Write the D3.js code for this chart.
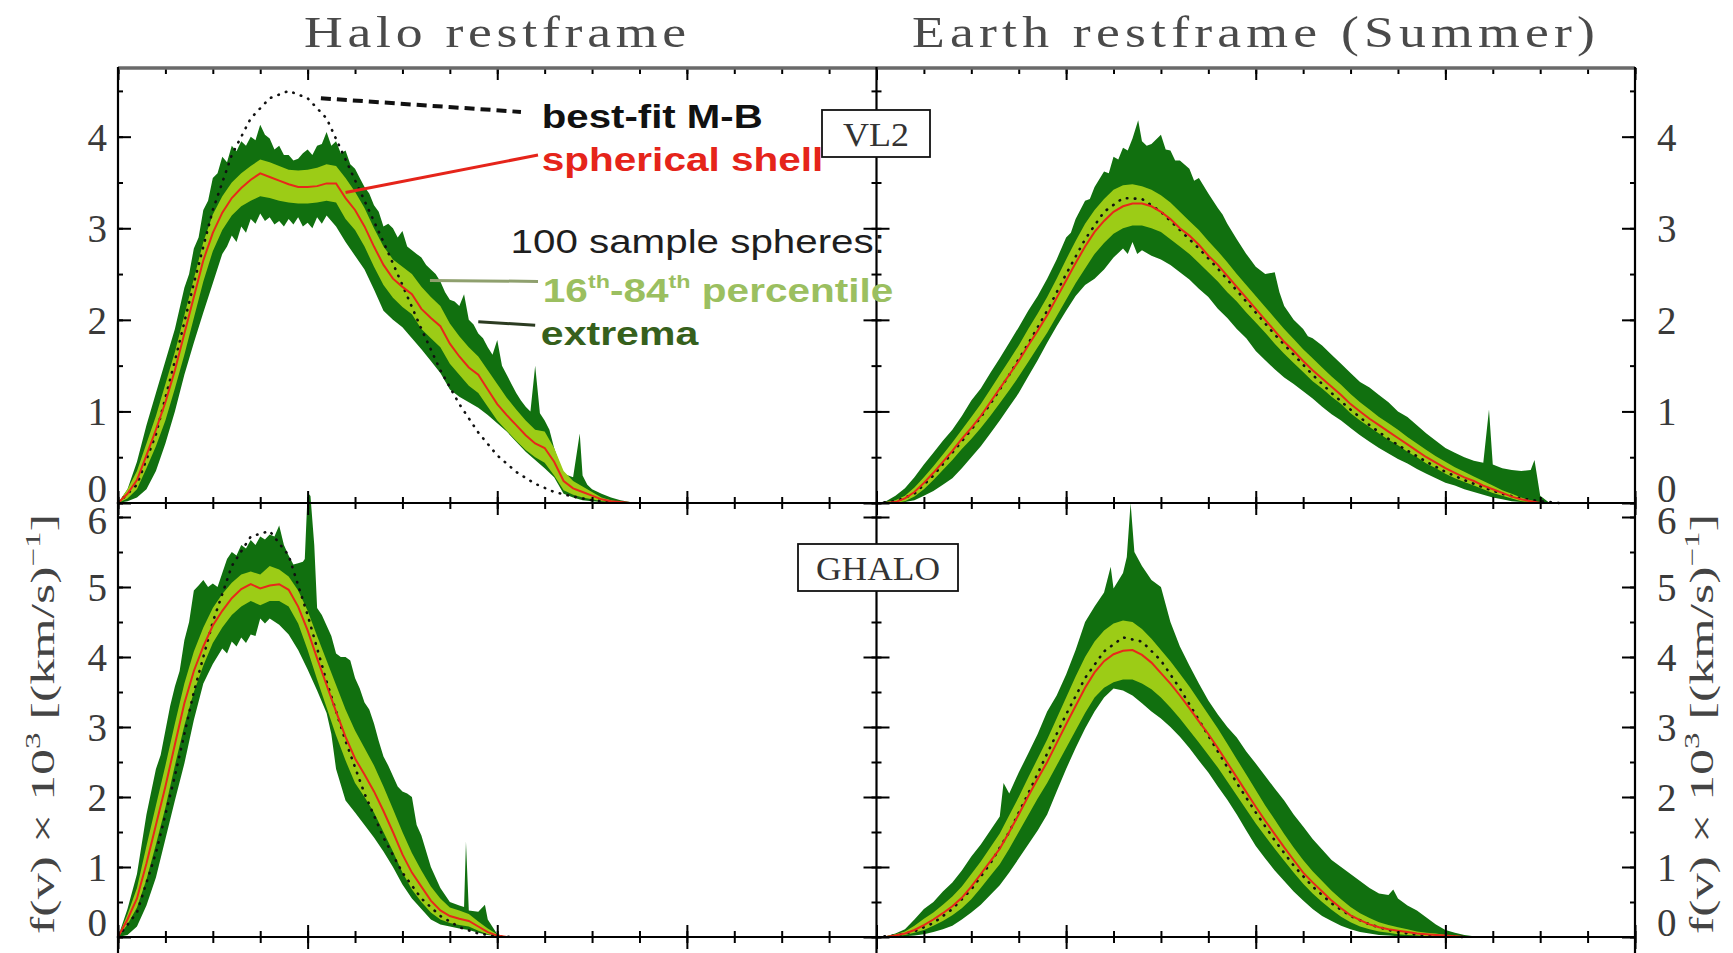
<!DOCTYPE html>
<html>
<head>
<meta charset="utf-8">
<script src="https://cdn.jsdelivr.net/npm/d3@7"></script>
<style>
  body { margin: 0; background: #fff; }
  svg { display: block; }
</style>
</head>
<body>
<svg id="chart" width="1733" height="953"></svg>
<script>
// f(v) x 10^3, pairs of [v (km/s), f]

// ---- VL2, halo restframe ----
var vl2HaloMax = [[0,0],[10,0.15],[20,0.45],[30,0.85],[40,1.2],[50,1.55],[60,1.9],[70,2.35],[75,2.5],[80,2.78],[85,2.9],[90,3.2],[95,3.3],[100,3.55],[105,3.6],[110,3.78],[115,3.72],[120,3.9],[125,3.84],[130,3.95],[135,3.9],[140,4.0],[145,3.96],[150,4.13],[155,4.02],[160,3.98],[165,3.86],[170,3.9],[175,3.8],[180,3.8],[185,3.74],[190,3.76],[195,3.82],[200,3.86],[205,3.8],[210,3.9],[215,3.92],[220,4.05],[225,3.9],[230,3.95],[235,3.82],[240,3.85],[245,3.7],[250,3.65],[255,3.55],[260,3.45],[265,3.38],[270,3.25],[275,3.18],[280,3.02],[285,3.05],[290,3.0],[295,2.9],[300,2.97],[305,2.8],[310,2.76],[315,2.72],[320,2.68],[325,2.6],[330,2.55],[335,2.5],[340,2.42],[345,2.3],[350,2.22],[355,2.2],[360,2.15],[365,2.28],[370,2.0],[375,1.95],[380,1.85],[385,1.8],[390,1.7],[395,1.62],[400,1.78],[405,1.5],[410,1.4],[415,1.3],[420,1.2],[425,1.12],[430,1.05],[435,1.0],[440,1.5],[445,0.98],[450,0.9],[455,0.8],[460,0.6],[465,0.45],[470,0.32],[475,0.3],[480,0.28],[487,0.76],[490,0.3],[495,0.2],[500,0.15],[510,0.1],[520,0.06],[530,0.03],[540,0.01],[550,0]];
var vl2HaloMin = [[0,0],[10,0.02],[20,0.06],[30,0.15],[40,0.35],[50,0.65],[60,1.0],[70,1.4],[80,1.75],[90,2.08],[100,2.4],[110,2.72],[115,2.8],[120,2.92],[125,2.85],[130,3.02],[135,2.95],[140,3.1],[145,3.05],[150,3.16],[155,3.08],[160,3.12],[165,3.04],[170,3.08],[175,3.02],[180,3.1],[185,3.04],[190,3.12],[195,3.02],[200,3.06],[205,3.0],[210,3.12],[215,3.05],[220,3.14],[225,3.08],[230,3.02],[240,2.85],[250,2.7],[260,2.55],[270,2.33],[280,2.1],[290,2.0],[300,1.92],[310,1.8],[320,1.68],[330,1.55],[340,1.42],[350,1.24],[360,1.16],[370,1.1],[380,1.04],[390,0.96],[400,0.87],[410,0.78],[420,0.67],[430,0.56],[440,0.47],[450,0.38],[460,0.28],[470,0.1],[480,0.06],[490,0.03],[500,0.02],[510,0.01],[520,0]];
var vl2HaloP84 = [[0,0],[10,0.15],[20,0.35],[30,0.65],[40,0.95],[50,1.3],[60,1.65],[70,2.05],[80,2.45],[90,2.85],[100,3.15],[110,3.35],[120,3.5],[130,3.6],[140,3.68],[150,3.75],[160,3.72],[170,3.68],[180,3.64],[190,3.63],[200,3.64],[210,3.66],[220,3.7],[230,3.68],[240,3.55],[250,3.4],[260,3.22],[270,3.0],[280,2.8],[290,2.66],[300,2.58],[310,2.5],[320,2.36],[330,2.25],[340,2.15],[350,1.96],[360,1.82],[370,1.7],[380,1.6],[390,1.45],[400,1.3],[410,1.15],[420,1.02],[430,0.9],[440,0.8],[450,0.78],[460,0.6],[470,0.35],[480,0.24],[490,0.18],[500,0.12],[510,0.06],[520,0.03],[530,0.01],[540,0]];
var vl2HaloP16 = [[0,0],[10,0.05],[20,0.15],[30,0.38],[40,0.62],[50,0.9],[60,1.25],[70,1.62],[80,2.02],[90,2.42],[100,2.75],[110,2.98],[120,3.14],[130,3.24],[140,3.3],[150,3.35],[160,3.33],[170,3.3],[180,3.28],[190,3.27],[200,3.27],[210,3.28],[220,3.3],[230,3.28],[240,3.1],[250,2.98],[260,2.8],[270,2.58],[280,2.38],[290,2.24],[300,2.14],[310,2.06],[320,1.9],[330,1.8],[340,1.7],[350,1.52],[360,1.4],[370,1.28],[380,1.2],[390,1.05],[400,0.9],[410,0.79],[420,0.68],[430,0.58],[440,0.5],[450,0.44],[460,0.3],[470,0.14],[480,0.09],[490,0.06],[500,0.04],[510,0.02],[520,0.01],[530,0]];
var vl2HaloMed = [[0,0],[10,0.1],[20,0.25],[30,0.52],[40,0.8],[50,1.1],[60,1.45],[70,1.85],[80,2.25],[90,2.65],[100,2.95],[110,3.17],[120,3.33],[130,3.44],[140,3.53],[150,3.6],[160,3.56],[170,3.52],[180,3.48],[190,3.45],[200,3.45],[210,3.46],[220,3.49],[230,3.49],[240,3.33],[250,3.2],[260,3.02],[270,2.8],[280,2.6],[290,2.45],[300,2.36],[310,2.28],[320,2.12],[330,2.02],[340,1.93],[350,1.74],[360,1.6],[370,1.48],[380,1.4],[390,1.24],[400,1.08],[410,0.96],[420,0.85],[430,0.74],[440,0.65],[450,0.6],[460,0.45],[470,0.24],[480,0.16],[490,0.12],[500,0.08],[510,0.04],[520,0.02],[530,0.01],[540,0]];
var vl2HaloMB = [[0,0],[20,0.2],[40,0.75],[60,1.55],[80,2.4],[100,3.2],[120,3.8],[140,4.2],[160,4.42],[180,4.5],[200,4.42],[220,4.2],[240,3.75],[260,3.3],[280,2.85],[300,2.38],[320,1.9],[340,1.45],[360,1.08],[380,0.77],[400,0.52],[420,0.34],[440,0.21],[460,0.12],[480,0.07],[500,0.03],[520,0.01],[540,0]];

// ---- VL2, Earth restframe (summer) ----
var vl2EarthMax = [[0,0],[10,0.02],[20,0.08],[30,0.16],[40,0.28],[50,0.42],[60,0.55],[70,0.68],[80,0.8],[90,0.95],[100,1.12],[110,1.25],[120,1.42],[130,1.58],[140,1.75],[150,1.92],[160,2.1],[170,2.26],[180,2.45],[190,2.66],[200,2.9],[205,2.95],[210,3.1],[220,3.3],[225,3.32],[230,3.45],[240,3.62],[245,3.6],[250,3.78],[255,3.75],[260,3.88],[265,3.85],[270,3.98],[276,4.18],[280,3.95],[285,3.9],[290,3.92],[300,4.02],[305,3.86],[310,3.85],[315,3.74],[320,3.74],[330,3.65],[335,3.52],[340,3.55],[350,3.38],[360,3.22],[365,3.15],[370,3.05],[380,2.88],[390,2.72],[400,2.58],[410,2.5],[420,2.52],[425,2.3],[430,2.15],[440,2.0],[450,1.9],[455,1.82],[460,1.8],[470,1.72],[480,1.62],[490,1.52],[500,1.42],[510,1.32],[520,1.26],[530,1.18],[540,1.1],[550,1.0],[560,0.94],[570,0.85],[580,0.76],[590,0.68],[600,0.6],[610,0.55],[620,0.5],[630,0.46],[640,0.44],[646,1.02],[650,0.42],[660,0.38],[670,0.36],[680,0.35],[690,0.36],[694,0.47],[700,0.08],[710,0]];
var vl2EarthMin = [[0,0],[20,0],[30,0.01],[40,0.03],[50,0.08],[60,0.13],[70,0.2],[80,0.27],[90,0.38],[100,0.5],[110,0.62],[120,0.76],[130,0.9],[140,1.05],[150,1.2],[160,1.38],[170,1.56],[180,1.75],[190,1.93],[200,2.1],[210,2.26],[220,2.38],[230,2.45],[240,2.55],[250,2.68],[260,2.78],[265,2.72],[270,2.85],[275,2.72],[280,2.76],[290,2.7],[300,2.66],[310,2.6],[320,2.52],[330,2.44],[340,2.34],[350,2.25],[360,2.12],[370,2.02],[380,1.9],[390,1.8],[400,1.66],[410,1.56],[420,1.46],[430,1.37],[440,1.3],[450,1.22],[460,1.14],[470,1.05],[480,0.97],[490,0.9],[500,0.82],[510,0.74],[520,0.67],[530,0.6],[540,0.54],[550,0.48],[560,0.43],[570,0.37],[580,0.32],[590,0.27],[600,0.22],[610,0.19],[620,0.15],[630,0.12],[640,0.09],[650,0.06],[660,0.04],[670,0.02],[680,0.01],[690,0],[700,0]];
var vl2EarthP84 = [[0,0],[10,0.01],[20,0.03],[30,0.08],[40,0.17],[50,0.28],[60,0.4],[70,0.53],[80,0.66],[90,0.8],[100,0.94],[110,1.08],[120,1.24],[130,1.4],[140,1.56],[150,1.72],[160,1.9],[170,2.07],[180,2.25],[190,2.45],[200,2.66],[210,2.86],[220,3.05],[230,3.2],[240,3.32],[250,3.42],[260,3.47],[270,3.48],[280,3.46],[290,3.42],[300,3.36],[310,3.28],[320,3.18],[330,3.08],[340,2.98],[350,2.86],[360,2.75],[370,2.63],[380,2.5],[390,2.38],[400,2.26],[410,2.14],[420,2.02],[430,1.9],[440,1.79],[450,1.68],[460,1.58],[470,1.48],[480,1.38],[490,1.29],[500,1.19],[510,1.1],[520,1.02],[530,0.94],[540,0.87],[550,0.8],[560,0.72],[570,0.65],[580,0.58],[590,0.51],[600,0.45],[610,0.39],[620,0.34],[630,0.29],[640,0.24],[650,0.19],[660,0.14],[670,0.1],[680,0.06],[690,0.03],[700,0]];
var vl2EarthP16 = [[0,0],[20,0],[30,0.02],[40,0.07],[50,0.15],[60,0.25],[70,0.36],[80,0.47],[90,0.59],[100,0.7],[110,0.82],[120,0.95],[130,1.09],[140,1.23],[150,1.38],[160,1.54],[170,1.7],[180,1.86],[190,2.04],[200,2.22],[210,2.4],[220,2.56],[230,2.72],[240,2.84],[250,2.94],[260,3.0],[270,3.03],[280,3.03],[290,3.0],[300,2.96],[310,2.88],[320,2.8],[330,2.72],[340,2.62],[350,2.52],[360,2.42],[370,2.3],[380,2.2],[390,2.08],[400,1.97],[410,1.86],[420,1.74],[430,1.63],[440,1.53],[450,1.43],[460,1.33],[470,1.25],[480,1.16],[490,1.08],[500,0.98],[510,0.9],[520,0.83],[530,0.76],[540,0.69],[550,0.63],[560,0.56],[570,0.5],[580,0.43],[590,0.38],[600,0.32],[610,0.27],[620,0.23],[630,0.19],[640,0.15],[650,0.11],[660,0.08],[670,0.05],[680,0.02],[690,0.01],[700,0]];
var vl2EarthMed = [[0,0],[10,0],[20,0.01],[30,0.05],[40,0.12],[50,0.22],[60,0.33],[70,0.45],[80,0.57],[90,0.7],[100,0.82],[110,0.95],[120,1.1],[130,1.25],[140,1.4],[150,1.55],[160,1.72],[170,1.88],[180,2.05],[190,2.24],[200,2.43],[210,2.62],[220,2.8],[230,2.96],[240,3.08],[250,3.18],[260,3.24],[270,3.27],[280,3.27],[290,3.24],[300,3.18],[310,3.1],[320,3.0],[330,2.92],[340,2.82],[350,2.7],[360,2.6],[370,2.48],[380,2.36],[390,2.24],[400,2.12],[410,2.0],[420,1.88],[430,1.76],[440,1.66],[450,1.55],[460,1.45],[470,1.36],[480,1.27],[490,1.18],[500,1.08],[510,1.0],[520,0.92],[530,0.85],[540,0.78],[550,0.71],[560,0.64],[570,0.57],[580,0.5],[590,0.44],[600,0.38],[610,0.33],[620,0.28],[630,0.24],[640,0.19],[650,0.15],[660,0.11],[670,0.07],[680,0.04],[690,0.02],[700,0]];
var vl2EarthMB = [[0,0],[20,0.02],[40,0.1],[60,0.3],[80,0.55],[100,0.8],[120,1.08],[140,1.4],[160,1.74],[180,2.1],[200,2.5],[220,2.88],[240,3.18],[260,3.33],[280,3.32],[300,3.18],[320,2.98],[340,2.78],[360,2.56],[380,2.32],[400,2.08],[420,1.84],[440,1.62],[460,1.4],[480,1.2],[500,1.02],[520,0.85],[540,0.7],[560,0.57],[580,0.45],[600,0.34],[620,0.25],[640,0.17],[660,0.1],[680,0.05],[700,0.02],[720,0]];

// ---- GHALO, halo restframe ----
var ghaloHaloMax = [[0,0],[10,0.4],[20,0.9],[30,1.75],[40,2.4],[45,2.6],[50,2.95],[55,3.3],[60,3.58],[65,3.8],[70,4.24],[75,4.5],[80,4.95],[85,5.02],[90,5.1],[95,5.0],[100,5.05],[105,5.0],[110,5.2],[115,5.4],[120,5.5],[125,5.45],[130,5.6],[135,5.55],[140,5.67],[145,5.6],[150,5.72],[155,5.68],[160,5.75],[165,5.72],[170,5.88],[175,5.6],[180,5.45],[185,5.32],[190,5.34],[195,5.36],[197,5.4],[200,6.35],[203,6.3],[207,5.6],[210,4.7],[215,4.6],[220,4.45],[225,4.3],[230,4.05],[235,4.0],[240,4.0],[245,3.95],[250,3.7],[255,3.55],[260,3.35],[265,3.25],[270,3.05],[275,2.8],[280,2.58],[285,2.45],[290,2.3],[295,2.15],[300,2.08],[305,2.05],[310,2.0],[315,1.6],[320,1.45],[330,1.0],[340,0.7],[350,0.5],[360,0.45],[365,0.43],[367,1.36],[370,0.38],[380,0.36],[387,0.46],[390,0.25],[400,0.04],[410,0]];
var ghaloHaloMin = [[0,0],[10,0.03],[20,0.15],[30,0.45],[40,0.85],[50,1.4],[60,1.95],[70,2.48],[80,3.1],[90,3.62],[100,3.9],[110,4.12],[115,4.05],[120,4.22],[125,4.15],[130,4.28],[135,4.2],[140,4.32],[145,4.3],[150,4.55],[155,4.48],[160,4.55],[170,4.46],[180,4.32],[190,4.1],[200,3.82],[210,3.52],[220,3.2],[225,2.9],[230,2.4],[240,1.95],[250,1.78],[260,1.6],[270,1.42],[280,1.22],[290,1.0],[300,0.75],[310,0.55],[320,0.4],[330,0.25],[340,0.18],[350,0.15],[360,0.12],[370,0.1],[380,0.06],[390,0.03],[400,0.01],[410,0]];
var ghaloHaloP84 = [[0,0],[10,0.32],[20,0.7],[30,1.3],[40,1.88],[50,2.45],[60,3.05],[70,3.62],[80,4.08],[90,4.42],[100,4.7],[110,4.9],[120,5.06],[130,5.18],[140,5.22],[150,5.18],[160,5.3],[170,5.25],[180,5.15],[190,4.95],[200,4.66],[210,4.3],[220,3.95],[230,3.6],[240,3.25],[250,2.95],[260,2.7],[270,2.45],[280,2.15],[290,1.83],[300,1.5],[310,1.2],[320,0.95],[330,0.72],[340,0.55],[350,0.42],[360,0.38],[370,0.33],[380,0.22],[390,0.12],[400,0.04],[410,0]];
var ghaloHaloP16 = [[0,0],[10,0.18],[20,0.42],[30,0.82],[40,1.32],[50,1.85],[60,2.45],[70,3.02],[80,3.5],[90,3.88],[100,4.2],[110,4.42],[120,4.6],[130,4.72],[140,4.8],[150,4.74],[160,4.8],[170,4.8],[180,4.72],[190,4.48],[200,4.1],[210,3.68],[220,3.28],[230,2.88],[240,2.52],[250,2.2],[260,2.0],[270,1.78],[280,1.5],[290,1.22],[300,0.92],[310,0.68],[320,0.5],[330,0.35],[340,0.25],[350,0.2],[360,0.17],[370,0.15],[380,0.09],[390,0.04],[400,0.01],[410,0]];
var ghaloHaloMed = [[0,0],[10,0.25],[20,0.55],[30,1.05],[40,1.6],[50,2.15],[60,2.75],[70,3.34],[80,3.8],[90,4.15],[100,4.45],[110,4.66],[120,4.84],[130,4.97],[140,5.04],[150,4.98],[160,5.02],[170,5.04],[180,4.96],[190,4.72],[200,4.38],[210,3.98],[220,3.6],[230,3.22],[240,2.86],[250,2.55],[260,2.32],[270,2.08],[280,1.8],[290,1.5],[300,1.18],[310,0.92],[320,0.72],[330,0.52],[340,0.38],[350,0.3],[360,0.26],[370,0.23],[380,0.15],[390,0.07],[400,0.02],[410,0]];
var ghaloHaloMB = [[0,0],[20,0.35],[40,1.2],[60,2.3],[80,3.5],[100,4.5],[120,5.3],[140,5.72],[160,5.8],[180,5.45],[200,4.6],[220,3.65],[240,2.8],[260,2.05],[280,1.42],[300,0.92],[320,0.55],[340,0.3],[360,0.14],[380,0.05],[400,0.01],[420,0]];

// ---- GHALO, Earth restframe (summer) ----
var ghaloEarthMax = [[0,0],[10,0.01],[20,0.05],[30,0.11],[40,0.25],[50,0.4],[60,0.5],[70,0.65],[80,0.78],[90,0.95],[100,1.15],[110,1.32],[120,1.52],[130,1.72],[134,2.2],[140,2.05],[150,2.35],[160,2.62],[170,2.9],[180,3.22],[190,3.45],[200,3.75],[210,4.1],[220,4.5],[230,4.72],[240,4.92],[247,5.29],[250,4.98],[260,5.2],[264,5.43],[268,6.2],[272,5.5],[280,5.3],[290,5.1],[300,5.0],[305,4.75],[310,4.5],[320,4.15],[330,3.88],[340,3.62],[350,3.38],[360,3.18],[370,3.0],[380,2.85],[390,2.65],[400,2.48],[410,2.3],[420,2.12],[430,1.95],[440,1.75],[450,1.58],[460,1.4],[470,1.25],[480,1.1],[490,1.0],[500,0.9],[510,0.8],[520,0.7],[530,0.62],[540,0.6],[545,0.68],[550,0.55],[560,0.45],[570,0.38],[580,0.28],[590,0.18],[600,0.1],[610,0.06],[620,0.03],[630,0.01],[640,0]];
var ghaloEarthMin = [[0,0],[20,0],[30,0.01],[40,0.02],[50,0.04],[60,0.07],[70,0.11],[80,0.16],[90,0.25],[100,0.35],[110,0.46],[120,0.6],[130,0.74],[140,0.92],[150,1.12],[160,1.32],[170,1.52],[180,1.75],[190,2.08],[200,2.4],[210,2.7],[220,2.98],[230,3.22],[240,3.42],[250,3.55],[260,3.52],[270,3.45],[280,3.34],[290,3.22],[300,3.12],[310,3.0],[320,2.86],[330,2.7],[340,2.52],[350,2.35],[360,2.15],[370,1.96],[380,1.75],[390,1.52],[400,1.3],[410,1.12],[420,0.95],[430,0.8],[440,0.65],[450,0.52],[460,0.4],[470,0.3],[480,0.23],[490,0.16],[500,0.11],[510,0.07],[520,0.05],[530,0.03],[540,0.02],[550,0.01],[560,0]];
var ghaloEarthP84 = [[0,0],[10,0.01],[20,0.04],[30,0.08],[40,0.16],[50,0.26],[60,0.35],[70,0.46],[80,0.58],[90,0.72],[100,0.9],[110,1.08],[120,1.28],[130,1.48],[140,1.74],[150,2.0],[160,2.28],[170,2.55],[180,2.82],[190,3.12],[200,3.42],[210,3.72],[220,4.0],[230,4.22],[240,4.38],[250,4.48],[260,4.52],[270,4.5],[280,4.4],[290,4.26],[300,4.1],[310,3.94],[320,3.76],[330,3.58],[340,3.38],[350,3.18],[360,2.98],[370,2.76],[380,2.54],[390,2.32],[400,2.1],[410,1.88],[420,1.68],[430,1.47],[440,1.28],[450,1.1],[460,0.94],[470,0.8],[480,0.66],[490,0.54],[500,0.43],[510,0.34],[520,0.27],[530,0.21],[540,0.17],[550,0.14],[560,0.11],[570,0.08],[580,0.06],[590,0.05],[600,0.03],[610,0.02],[620,0.01],[630,0]];
var ghaloEarthP16 = [[0,0],[10,0],[20,0.01],[30,0.03],[40,0.06],[50,0.1],[60,0.16],[70,0.23],[80,0.31],[90,0.41],[100,0.54],[110,0.7],[120,0.87],[130,1.04],[140,1.26],[150,1.5],[160,1.74],[170,1.98],[180,2.2],[190,2.45],[200,2.7],[210,2.95],[220,3.2],[230,3.42],[240,3.56],[250,3.64],[260,3.68],[270,3.68],[280,3.62],[290,3.54],[300,3.42],[310,3.28],[320,3.12],[330,2.95],[340,2.78],[350,2.6],[360,2.42],[370,2.22],[380,2.02],[390,1.82],[400,1.62],[410,1.44],[420,1.26],[430,1.09],[440,0.92],[450,0.76],[460,0.62],[470,0.5],[480,0.39],[490,0.29],[500,0.21],[510,0.15],[520,0.11],[530,0.08],[540,0.06],[550,0.04],[560,0.03],[570,0.02],[580,0.01],[590,0]];
var ghaloEarthMed = [[0,0],[10,0],[20,0.02],[30,0.05],[40,0.1],[50,0.17],[60,0.25],[70,0.34],[80,0.44],[90,0.56],[100,0.72],[110,0.9],[120,1.08],[130,1.26],[140,1.5],[150,1.75],[160,2.01],[170,2.26],[180,2.5],[190,2.77],[200,3.04],[210,3.3],[220,3.56],[230,3.78],[240,3.94],[250,4.04],[260,4.09],[270,4.1],[280,4.03],[290,3.92],[300,3.77],[310,3.62],[320,3.45],[330,3.27],[340,3.08],[350,2.9],[360,2.7],[370,2.49],[380,2.28],[390,2.07],[400,1.86],[410,1.66],[420,1.47],[430,1.28],[440,1.1],[450,0.92],[460,0.78],[470,0.65],[480,0.52],[490,0.41],[500,0.31],[510,0.24],[520,0.18],[530,0.14],[540,0.11],[550,0.09],[560,0.07],[570,0.05],[580,0.04],[590,0.03],[600,0.02],[610,0.01],[620,0]];
var ghaloEarthMB = [[0,0],[20,0.02],[40,0.08],[60,0.2],[80,0.4],[100,0.68],[120,1.05],[140,1.5],[160,2.05],[180,2.62],[200,3.18],[220,3.7],[240,4.08],[260,4.28],[280,4.22],[300,3.95],[320,3.55],[340,3.1],[360,2.65],[380,2.2],[400,1.78],[420,1.38],[440,1.02],[460,0.72],[480,0.48],[500,0.3],[520,0.18],[540,0.1],[560,0.05],[580,0.02],[600,0.01],[620,0]];

var titles = ["Halo restframe", "Earth restframe (Summer)"];
var boxLabels = ["VL2", "GHALO"];
var xMajor = [0, 200, 400, 600, 800];
var xMinor = d3.range(0, 801, 50);
var yMaxTop = 4.75, yMaxBottom = 6.2;

// legend (in units of the upper left panel)
var legendItems = [
  { text: "best-fit M-B", v0: 447, v1: 680, f: 4.09, color: "#111", weight: "bold" },
  { text: "spherical shell", v0: 447, v1: 744, f: 3.63, color: "#e5241a", weight: "bold" },
  { text: "100 sample spheres:", v0: 414, v1: 809, f: 2.73, color: "#1e1e1e", weight: "normal" },
  { text: "16|th|-84|th| percentile", v0: 448, v1: 818, f: 2.2, color: "#9bbf60", weight: "bold" },
  { text: "extrema", v0: 446, v1: 612, f: 1.72, color: "#36601c", weight: "bold" }
];
var leaders = [
  { from: [214, 4.42], to: [425, 4.27], color: "#111", dash: "10,6", width: 4 },
  { from: [240, 3.39], to: [443, 3.8], color: "#e5241a", dash: null, width: 3 },
  { from: [329, 2.43], to: [443, 2.42], color: "#8fa06e", dash: null, width: 3 },
  { from: [380, 1.98], to: [440, 1.94], color: "#2c3c22", dash: null, width: 3 }
];

var darkGreen = "#11700f";
var lightGreen = "#9ccc16";
var redLine = "#e8281a";
var serif = "'Liberation Serif', 'DejaVu Serif', serif";
var sans = "'Liberation Sans', Arial, sans-serif";

var colX = [[118, 876.5], [876.5, 1635]];
var rowY = [[503, 68], [937, 503]];

var panels = [
  { col: 0, row: 0, max: vl2HaloMax, min: vl2HaloMin, p84: vl2HaloP84, p16: vl2HaloP16, med: vl2HaloMed, mb: vl2HaloMB },
  { col: 1, row: 0, max: vl2EarthMax, min: vl2EarthMin, p84: vl2EarthP84, p16: vl2EarthP16, med: vl2EarthMed, mb: vl2EarthMB },
  { col: 0, row: 1, max: ghaloHaloMax, min: ghaloHaloMin, p84: ghaloHaloP84, p16: ghaloHaloP16, med: ghaloHaloMed, mb: ghaloHaloMB },
  { col: 1, row: 1, max: ghaloEarthMax, min: ghaloEarthMin, p84: ghaloEarthP84, p16: ghaloEarthP16, med: ghaloEarthMed, mb: ghaloEarthMB }
];

var svg = d3.select("#chart");

function xScale(col) {
  return d3.scaleLinear().domain([0, 800]).range(colX[col]);
}
function yScale(row) {
  return d3.scaleLinear().domain([0, row == 0 ? yMaxTop : yMaxBottom]).range(rowY[row]);
}

// curves
panels.forEach(function (p) {
  var x = xScale(p.col);
  var y = yScale(p.row);
  var line = d3.line().x((d) => x(d[0])).y((d) => y(d[1]));
  var g = svg.append("g");

  g.append("path")
    .attr("d", line(p.max.concat(p.min.slice().reverse())) + "Z")
    .attr("fill", darkGreen);
  g.append("path")
    .attr("d", line(p.p84.concat(p.p16.slice().reverse())) + "Z")
    .attr("fill", lightGreen);
  g.append("path")
    .attr("d", line(p.mb))
    .attr("fill", "none")
    .attr("stroke", "#111")
    .attr("stroke-width", 2.6)
    .attr("stroke-linecap", "round")
    .attr("stroke-dasharray", "0.5,7.5");
  g.append("path")
    .attr("d", line(p.med))
    .attr("fill", "none")
    .attr("stroke", redLine)
    .attr("stroke-width", 2);
});

// ticks, all pointing into the panels
function tickGroup(axis, tx, ty) {
  svg.append("g")
    .attr("transform", "translate(" + tx + "," + ty + ")")
    .call(axis)
    .call((g) => g.select(".domain").remove())
    .call((g) => g.selectAll(".tick line").attr("stroke", "#000").attr("stroke-width", 2));
}

panels.forEach(function (p) {
  var x = xScale(p.col);
  var y = yScale(p.row);
  var yTop = y.domain()[1];
  var yMajor = d3.range(0, Math.floor(yTop) + 1, 1);
  var yMinor = d3.range(0, yTop, 0.5);

  [[xMinor, 6], [xMajor, 12]].forEach(function (t) {
    tickGroup(d3.axisBottom(x).tickValues(t[0]).tickSize(t[1]).tickFormat(""), 0, y.range()[1]);
    tickGroup(d3.axisTop(x).tickValues(t[0]).tickSize(t[1]).tickFormat(""), 0, y.range()[0]);
    if (p.row == 1) {
      // top ticks of the (cropped) panel underneath
      tickGroup(d3.axisBottom(x).tickValues(t[0]).tickSize(t[1]).tickFormat(""), 0, y.range()[0]);
    }
  });
  [[yMinor, 5], [yMajor, 13]].forEach(function (t) {
    tickGroup(d3.axisRight(y).tickValues(t[0]).tickSize(t[1]).tickFormat(""), x.range()[0], 0);
    tickGroup(d3.axisLeft(y).tickValues(t[0]).tickSize(t[1]).tickFormat(""), x.range()[1], 0);
  });

  // tick labels on the outer sides only
  var lab = p.col == 0
    ? d3.axisLeft(y).tickValues(yMajor).tickSize(0).tickPadding(11)
    : d3.axisRight(y).tickValues(yMajor).tickSize(0).tickPadding(22);
  lab.tickFormat(d3.format("d"));
  svg.append("g")
    .attr("transform", "translate(" + (p.col == 0 ? x.range()[0] : x.range()[1]) + ",0)")
    .call(lab)
    .call((g) => g.select(".domain").remove())
    .call((g) =>
      g.selectAll("text")
        .attr("font-family", serif)
        .attr("font-size", 39)
        .attr("fill", "#3a3a3a")
        .attr("y", (d) => (d === 0 ? -14 : d === 6 ? 4 : 1))
    );
});

// frame
var frame = svg.append("g").attr("stroke", "#000").attr("stroke-width", 2.2);
frame.append("line").attr("x1", 118).attr("x2", 1635).attr("y1", 68).attr("y2", 68)
  .attr("stroke", "#6a6a6a").attr("stroke-width", 3.5);
[503, 937].forEach(function (yy) {
  frame.append("line").attr("x1", 118).attr("x2", 1635).attr("y1", yy).attr("y2", yy);
});
[118, 876.5, 1635].forEach(function (xx) {
  frame.append("line").attr("x1", xx).attr("x2", xx).attr("y1", 67).attr("y2", 953);
});

// boxed simulation names on the middle line
var boxes = [
  { text: boxLabels[0], x0: 822, x1: 930, y0: 110, y1: 157, base: 146, len: 66 },
  { text: boxLabels[1], x0: 798, x1: 958, y0: 544, y1: 591, base: 580, len: 124 }
];
boxes.forEach(function (b) {
  svg.append("rect")
    .attr("x", b.x0).attr("y", b.y0)
    .attr("width", b.x1 - b.x0).attr("height", b.y1 - b.y0)
    .attr("fill", "#fff").attr("stroke", "#111").attr("stroke-width", 1.8);
  svg.append("text")
    .attr("x", (b.x0 + b.x1) / 2).attr("y", b.base)
    .attr("text-anchor", "middle")
    .attr("font-family", serif).attr("font-size", 34).attr("fill", "#333")
    .attr("textLength", b.len)
    .attr("lengthAdjust", "spacingAndGlyphs")
    .text(b.text);
});

// column titles: glyphs a bit wider, rest of the width as letter spacing
var titlePos = [[304, 382], [912, 683]];
var titleStretch = 1.22;
titles.forEach(function (t, i) {
  svg.append("text")
    .attr("transform", "translate(" + titlePos[i][0] + ",47) scale(" + titleStretch + ",1)")
    .attr("font-family", serif).attr("font-size", 44).attr("fill", "#4a4a4a")
    .attr("textLength", titlePos[i][1] / titleStretch)
    .attr("lengthAdjust", "spacing")
    .text(t);
});

// y axis titles, both sides
function yTitle(cx, cy, len) {
  var t = svg.append("text")
    .attr("font-family", serif).attr("font-size", 33).attr("fill", "#444")
    .attr("text-anchor", "middle");
  t.append("tspan").text("f(v) \u00d7 10");
  t.append("tspan").attr("font-size", 21).attr("dy", -14).text("3");
  t.append("tspan").attr("dy", 14).text(" [(km/s)");
  t.append("tspan").attr("font-size", 21).attr("dy", -14).text("\u22121");
  t.append("tspan").attr("dy", 14).text("]");
  var w = t.node().getComputedTextLength();
  t.attr("transform", "translate(" + cx + "," + cy + ") rotate(-90) scale(" + len / w + ",1)");
}
yTitle(54, 724, 420);
yTitle(1713, 724, 420);

// legend
var xl = xScale(0), yl = yScale(0);
leaders.forEach(function (l) {
  svg.append("line")
    .attr("x1", xl(l.from[0])).attr("y1", yl(l.from[1]))
    .attr("x2", xl(l.to[0])).attr("y2", yl(l.to[1]))
    .attr("stroke", l.color).attr("stroke-width", l.width)
    .attr("stroke-dasharray", l.dash);
});
legendItems.forEach(function (it) {
  var t = svg.append("text")
    .attr("font-family", sans).attr("font-size", 33)
    .attr("font-weight", it.weight).attr("fill", it.color);
  it.text.split("|").forEach(function (part, k) {
    if (k % 2 == 1) {
      t.append("tspan").attr("font-size", 19).attr("dy", -14).text(part);
    } else {
      t.append("tspan").attr("dy", k > 0 ? 14 : 0).text(part);
    }
  });
  var w = t.node().getComputedTextLength();
  var target = xl(it.v1) - xl(it.v0);
  t.attr("transform", "translate(" + xl(it.v0) + "," + yl(it.f) + ") scale(" + target / w + ",1)");
});
</script>
</body>
</html>
